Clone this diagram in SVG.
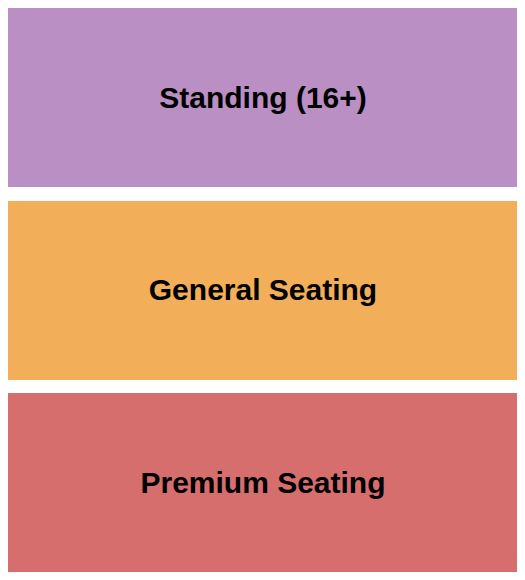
<svg xmlns="http://www.w3.org/2000/svg" width="525" height="580" viewBox="0 0 525 580">
<style>
.lbl{font-family:"Liberation Sans",Arial,sans-serif;font-weight:bold;font-size:30px;fill:#000;text-anchor:middle}
</style>
<rect width="525" height="580" fill="#fff"/>
<g id="standing"><rect x="8" y="8" width="509" height="179" fill="#BA8FC3"/><text class="lbl" x="263" y="107.5">Standing (16+)</text></g>
<g id="general"><rect x="8" y="201" width="509" height="179" fill="#F3AE5A"/><text class="lbl" x="263" y="299.5">General Seating</text></g>
<g id="premium"><rect x="8" y="393" width="509" height="179" fill="#D76E6E"/><text class="lbl" x="263" y="493">Premium Seating</text></g>
<g id="connectors"/>
</svg>
